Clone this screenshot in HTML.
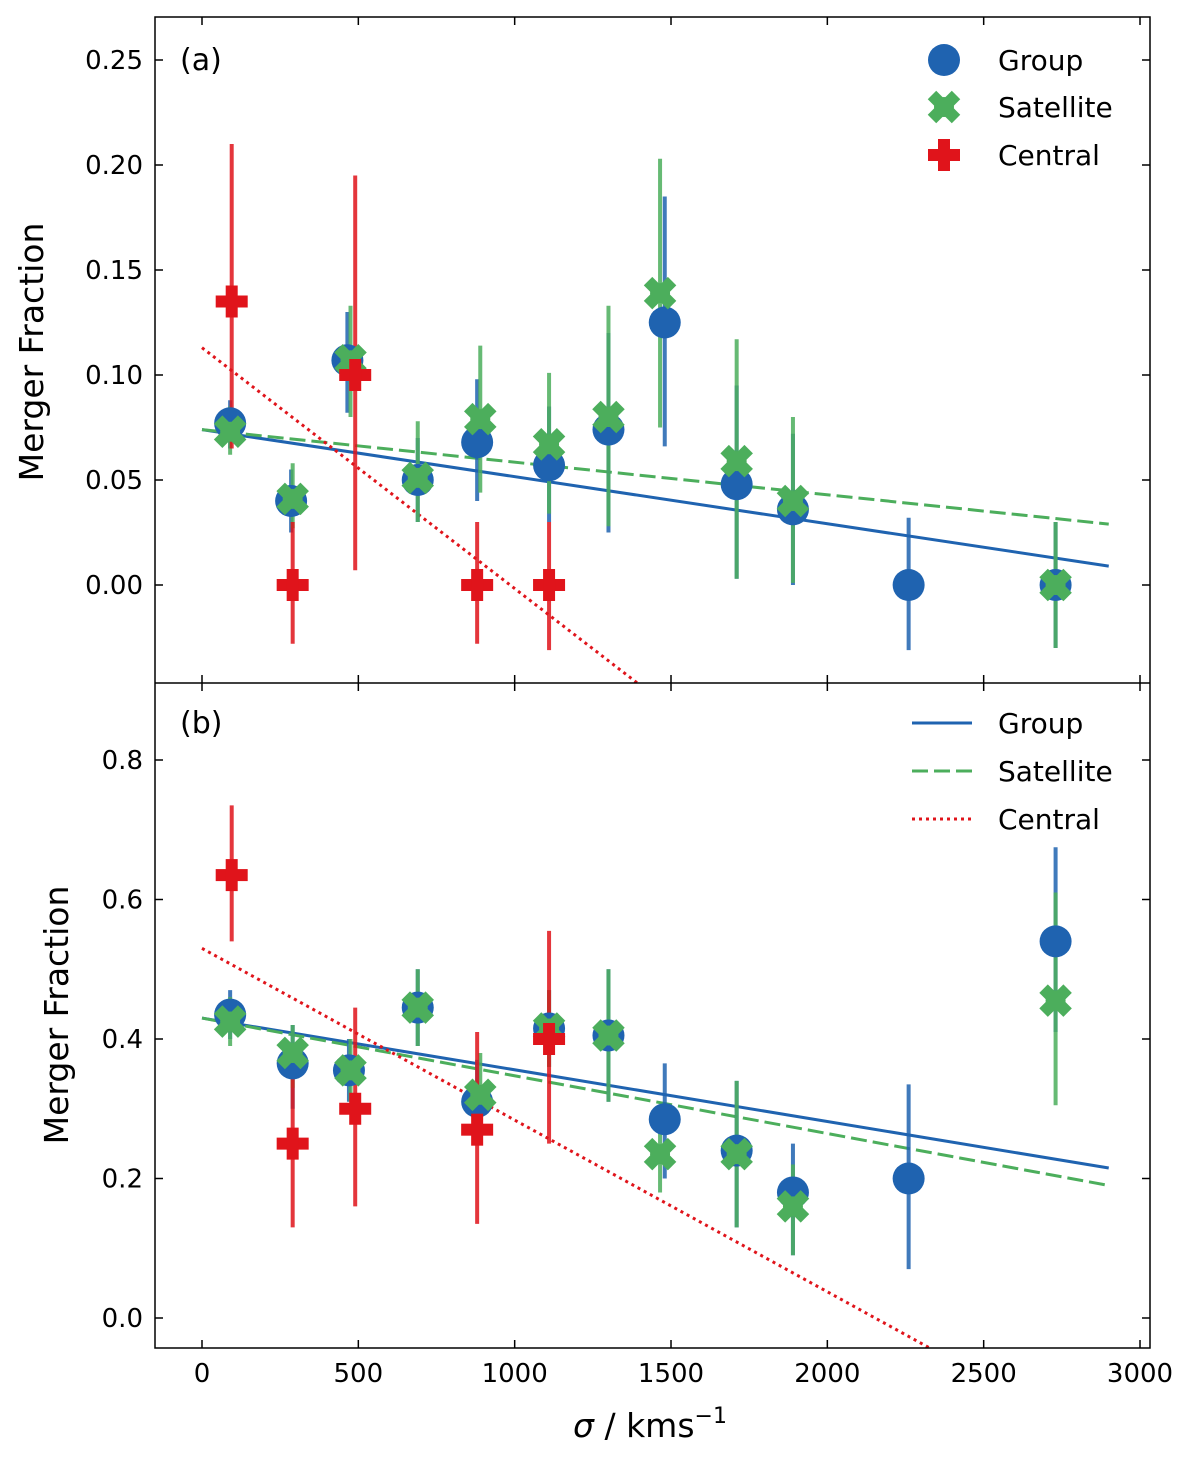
<!DOCTYPE html>
<html><head><meta charset="utf-8"><style>body{margin:0;background:#fff}svg{display:block;font-family:"DejaVu Sans","Liberation Sans",sans-serif}</style></head>
<body>
<svg id="chart" width="1200" height="1459"></svg>
<script>
const xTicks=[0,500,1000,1500,2000,2500,3000];
const aTicks=[0.00,0.05,0.10,0.15,0.20,0.25];
const bTicks=[0.0,0.2,0.4,0.6,0.8];
// panel a
const aGroupX=[90,285,465,690,880,1110,1300,1480,1710,1890,2260,2730];
const aGroupY=[0.077,0.040,0.107,0.050,0.068,0.057,0.074,0.125,0.048,0.036,0.0,0.0];
const aGroupLo=[0.065,0.025,0.082,0.030,0.040,0.030,0.025,0.066,0.003,0.000,-0.031,-0.030];
const aGroupHi=[0.088,0.055,0.130,0.070,0.098,0.085,0.120,0.185,0.095,0.072,0.032,0.030];
const aSatX=[90,290,475,690,890,1110,1300,1465,1710,1890,2730];
const aSatY=[0.073,0.041,0.107,0.051,0.079,0.067,0.080,0.139,0.059,0.040,0.0];
const aSatLo=[0.062,0.027,0.080,0.030,0.044,0.034,0.028,0.075,0.003,0.001,-0.030];
const aSatHi=[0.085,0.058,0.133,0.078,0.114,0.101,0.133,0.203,0.117,0.080,0.030];
const aCenX=[95,290,490,880,1110];
const aCenY=[0.135,0.0,0.100,0.0,0.0];
const aCenLo=[0.065,-0.028,0.007,-0.028,-0.031];
const aCenHi=[0.210,0.030,0.195,0.030,0.030];
const aFitGroup=[0.074,0.009];
const aFitSat=[0.074,0.029];
const aFitCen=[0.113,-0.2196];
// panel b
const bGroupX=[90,290,470,690,880,1110,1300,1480,1710,1890,2260,2730];
const bGroupY=[0.435,0.365,0.355,0.445,0.31,0.415,0.405,0.285,0.24,0.18,0.2,0.54];
const bGroupLo=[0.40,0.30,0.31,0.39,0.25,0.36,0.31,0.20,0.13,0.09,0.07,0.41];
const bGroupHi=[0.47,0.42,0.40,0.50,0.37,0.47,0.50,0.365,0.34,0.25,0.335,0.675];
const bSatX=[90,290,475,690,890,1110,1300,1465,1710,1890,2730];
const bSatY=[0.425,0.38,0.355,0.445,0.32,0.415,0.405,0.235,0.235,0.16,0.455];
const bSatLo=[0.39,0.33,0.31,0.39,0.26,0.36,0.31,0.18,0.13,0.09,0.305];
const bSatHi=[0.46,0.42,0.40,0.50,0.38,0.47,0.50,0.29,0.34,0.22,0.61];
const bCenX=[95,290,490,880,1110];
const bCenY=[0.635,0.25,0.30,0.27,0.40];
const bCenLo=[0.54,0.13,0.16,0.135,0.25];
const bCenHi=[0.735,0.37,0.445,0.41,0.555];
const bFitGroup=[0.43,0.215];
const bFitSat=[0.43,0.19];
const bFitCen=[0.53,-0.184];

const NS='http://www.w3.org/2000/svg';
const svg=document.getElementById('chart');
const L=155,R=1150;
const X=v=>202+v*0.31267;
const Ya=v=>585-v*2100;
const Yb=v=>1318-v*697.5;
function mk(tag,attrs,parent){const e=document.createElementNS(NS,tag);for(const k in attrs)e.setAttribute(k,attrs[k]);(parent||svg).appendChild(e);return e;}
const BLUE='#1f63b0',GREEN='#4cae5c',RED='#e0141b';

function clip(id,top,bot){const d=mk('defs',{});const c=mk('clipPath',{id:id},d);mk('rect',{x:L,y:top,width:R-L,height:bot-top},c);}
clip('ca',17,683);clip('cb',683,1348);

function panel(top,bot,Y,ticks,fmt,name){
  const g=mk('g',{});
  
  
  ticks.forEach(t=>{const y=Y(t);
    mk('line',{x1:L,x2:L+8,y1:y,y2:y,stroke:'#000','stroke-width':1.5},g);
    mk('line',{x1:R,x2:R-8,y1:y,y2:y,stroke:'#000','stroke-width':1.5},g);
    const tx=mk('text',{x:L-12,y:y+9,'text-anchor':'end','font-size':26},g);tx.textContent=fmt(t);
    
    
  });
  xTicks.forEach(t=>{const x=X(t);
    mk('line',{x1:x,x2:x,y1:bot,y2:bot-8,stroke:'#000','stroke-width':1.5},g);
    mk('line',{x1:x,x2:x,y1:top,y2:top+8,stroke:'#000','stroke-width':1.5},g);
  });
}
panel(17,683,Ya,aTicks,t=>t.toFixed(2),'panel-a');
panel(683,1348,Yb,bTicks,t=>t.toFixed(1),'panel-b');
xTicks.forEach(t=>{const tx=mk('text',{x:X(t),y:1382,'text-anchor':'middle','font-size':26});tx.textContent=t;
  
  });

function fit(Y,c,coef,col,dash,name){
  const l=mk('line',{x1:X(0),y1:Y(coef[0]),x2:X(2900),y2:Y(coef[1]),stroke:col,'stroke-width':3,'stroke-dasharray':dash,'clip-path':'url(#'+c+')'});
  
  
}
function errs(Y,c,xs,lo,hi,col,name){xs.forEach((x,i)=>{const l=mk('line',{x1:X(x),x2:X(x),y1:Y(lo[i]),y2:Y(hi[i]),stroke:col,'stroke-width':4,opacity:0.85,'clip-path':'url(#'+c+')'});
  
  });}
function circ(x,y,name){const e=mk('circle',{cx:x,cy:y,r:16,fill:BLUE});}
function xm(x,y,name){const g=mk('g',{transform:`translate(${x},${y}) rotate(45)`});
  mk('rect',{x:-17,y:-6,width:34,height:12,fill:GREEN},g);mk('rect',{x:-6,y:-17,width:12,height:34,fill:GREEN},g);mk('circle',{r:10,fill:GREEN},g);}
function pl(x,y,name){const g=mk('g',{transform:`translate(${x},${y})`});
  mk('rect',{x:-16,y:-6,width:32,height:12,fill:RED},g);mk('rect',{x:-6,y:-16,width:12,height:32,fill:RED},g);}

function draw(Y,c,gx,gy,gl,gh,sx,sy,sl,sh,cx,cy,cl,ch,fg,fs,fc,p){
  fit(Y,c,fg,BLUE,'',p+'-group-fit');
  fit(Y,c,fs,GREEN,'16 6',p+'-satellite-fit');
  fit(Y,c,fc,RED,'3 4',p+'-central-fit');
  errs(Y,c,gx,gl,gh,BLUE,p+'-group-errorbar');
  errs(Y,c,sx,sl,sh,GREEN,p+'-satellite-errorbar');
  errs(Y,c,cx,cl,ch,RED,p+'-central-errorbar');
  gx.forEach((x,i)=>circ(X(x),Y(gy[i]),p+'-group-point'));
  sx.forEach((x,i)=>xm(X(x),Y(sy[i]),p+'-satellite-point'));
  cx.forEach((x,i)=>pl(X(x),Y(cy[i]),p+'-central-point'));
}
draw(Ya,'ca',aGroupX,aGroupY,aGroupLo,aGroupHi,aSatX,aSatY,aSatLo,aSatHi,aCenX,aCenY,aCenLo,aCenHi,aFitGroup,aFitSat,aFitCen,'a');
draw(Yb,'cb',bGroupX,bGroupY,bGroupLo,bGroupHi,bSatX,bSatY,bSatLo,bSatHi,bCenX,bCenY,bCenLo,bCenHi,bFitGroup,bFitSat,bFitCen,'b');

mk('rect',{x:L,y:17,width:R-L,height:1331,fill:'none',stroke:'#000','stroke-width':1.5});
mk('line',{x1:L,x2:R,y1:683,y2:683,stroke:'#000','stroke-width':1.5});

function txt(x,y,s,size,name,extra){const t=mk('text',Object.assign({x:x,y:y,'font-size':size},extra||{}));t.textContent=s;return t;}
txt(180,70,'(a)',30,'panel-a-label');
txt(180,733,'(b)',30,'panel-b-label');
circ(944,60,'legend-group-marker');xm(944,107,'legend-satellite-marker');pl(944,155,'legend-central-marker');
txt(998,70,'Group',28,'legend-group-label');txt(998,117,'Satellite',28,'legend-satellite-label');txt(998,165,'Central',28,'legend-central-label');
[[723,BLUE,''],[771,GREEN,'16 6'],[819,RED,'3 4']].forEach((r,i)=>{const l=mk('line',{x1:912,x2:972,y1:r[0],y2:r[0],stroke:r[1],'stroke-width':3,'stroke-dasharray':r[2]});
  
  });
txt(998,733,'Group',28,'legend-group-fit-label');txt(998,781,'Satellite',28,'legend-satellite-fit-label');txt(998,829,'Central',28,'legend-central-fit-label');
txt(0,0,'Merger Fraction',33,'y-axis-title-a',{transform:'translate(43,352) rotate(-90)','text-anchor':'middle'});
txt(0,0,'Merger Fraction',33,'y-axis-title-b',{transform:'translate(68,1015) rotate(-90)','text-anchor':'middle'});
const xl=txt(650,1437,'',33,'x-axis-title',{'text-anchor':'middle'});
xl.innerHTML='<tspan font-style="italic">σ</tspan> / kms<tspan dy="-14" font-size="22">−1</tspan>';
</script>
</body></html>
